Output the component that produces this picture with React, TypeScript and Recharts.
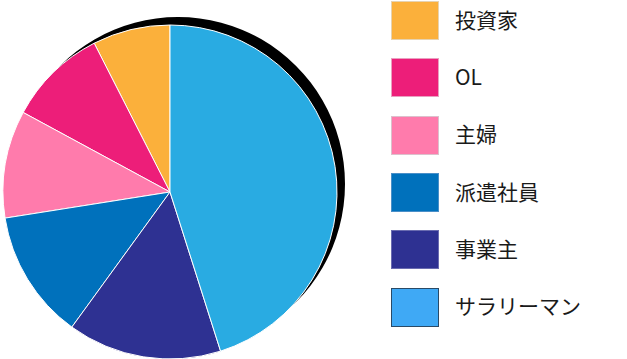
import { PieChart, Pie, Cell } from 'recharts'

const categories = ['投資家', 'OL', '主婦', '派遣社員', '事業主', 'サラリーマン']
const shares = [7.5, 9.6, 10.4, 12.5, 14.9, 45.1]
const sliceColors = ['#FBB03B', '#ED1E79', '#FF7BAC', '#0071BC', '#2E3192', '#29ABE2']
const legendColors = ['#FBB03B', '#ED1E79', '#FF7BAC', '#0071BC', '#2E3192', '#3FA9F5']
const legendBorders = ['#e6d2b0', '#e9a0c0', '#dcc0cc', '#4a8fc8', '#6a6cb0', '#2a4a66']

const data = categories.map((name, i) => ({ name, value: shares[i] }))
const shadow = [{ name: 'shadow', value: 1 }]

function SideLegend() {
  return (
    <div style={{ position: 'absolute', left: 391, top: -8, fontFamily: '"Noto Sans CJK JP", "Noto Sans", sans-serif' }}>
      {categories.map((name, i) => (
        <div key={name} style={{ display: 'flex', alignItems: 'center', height: 57.3 }}>
          <div style={{
            width: 46, height: 37, boxSizing: 'content-box',
            background: legendColors[i], border: `1px solid ${legendBorders[i]}`,
          }} />
          <span style={{ marginLeft: 16, fontSize: 21, color: '#1a1a1a', lineHeight: 1, marginTop: -3 }}>{name}</span>
        </div>
      ))}
    </div>
  )
}

export default function App() {
  return (
    <div style={{ position: 'absolute', left: 0, top: 0, width: 627, height: 359, overflow: 'hidden', background: '#fff' }}>
      <PieChart width={390} height={359} margin={{ top: 0, right: 0, bottom: 0, left: 0 }}>
        <Pie
          data={shadow}
          dataKey="value"
          cx={178}
          cy={184}
          outerRadius={167}
          fill="#000"
          stroke="none"
          isAnimationActive={false}
          legendType="none"
        />
        <Pie
          data={data}
          dataKey="value"
          nameKey="name"
          cx={170}
          cy={192}
          outerRadius={167}
          startAngle={90}
          endAngle={450}
          stroke="#ffffff"
          strokeWidth={1}
          isAnimationActive={false}
        >
          {data.map((d, i) => (
            <Cell key={d.name} fill={sliceColors[i]} />
          ))}
        </Pie>
      </PieChart>
      <SideLegend />
    </div>
  )
}
